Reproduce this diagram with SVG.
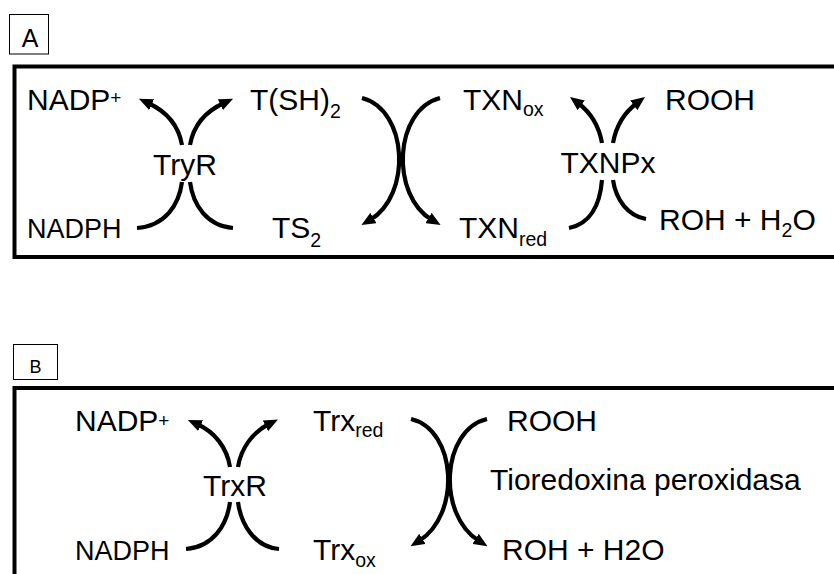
<svg xmlns="http://www.w3.org/2000/svg" width="834" height="574" viewBox="0 0 834 574">
  <style>
    text { font-family: "Liberation Sans", Arial, sans-serif; fill: #000; }
    .big { font-size: 30px; }
    .mid { font-size: 27px; }
    .sub { font-size: 19.5px; }
    .sup { font-size: 19px; }
    .panel { fill: none; stroke: #000; stroke-width: 4; }
    .tag { fill: #fff; stroke: #000; stroke-width: 1; }
    .arc { fill: none; stroke: #000; stroke-width: 4.2; }
    .arc.head { marker-end: url(#arrow); }
  </style>
  <defs>
    <marker id="arrow" viewBox="0 0 14 12" markerWidth="14" markerHeight="12" refX="4" refY="6" orient="auto" markerUnits="userSpaceOnUse">
      <path d="M0,0 L14,6 L0,12 z" fill="#000"/>
    </marker>
  </defs>
  <rect width="834" height="574" fill="#fff"/>

  <!-- Panel A: trypanothione system -->
  <g id="panelA">
    <rect class="tag" x="9.5" y="14.5" width="39" height="39.5"/>
    <text x="30" y="47" font-size="25" text-anchor="middle">A</text>
    <rect class="panel" x="14.5" y="66.5" width="830" height="190.5"/>
  </g>
  <g id="a-nadp"><text class="big" x="27" y="110">NADP<tspan class="sup" y="104">+</tspan></text></g>
  <g id="a-nadph"><text class="mid" x="27" y="238">NADPH</text></g>
  <g id="a-tryr"><text class="big" x="185" y="175" text-anchor="middle">TryR</text></g>
  <g id="a-tsh2"><text class="big" x="250" y="110">T(SH)<tspan class="sub" y="118">2</tspan></text></g>
  <g id="a-ts2"><text class="big" x="272" y="238">TS<tspan class="sub" y="247">2</tspan></text></g>
  <g id="a-txnox"><text class="big" x="463" y="110">TXN<tspan class="sub" y="116">ox</tspan></text></g>
  <g id="a-txnred"><text class="big" x="459" y="238">TXN<tspan class="sub" y="246">red</tspan></text></g>
  <g id="a-txnpx"><text class="big" x="608" y="173" text-anchor="middle">TXNPx</text></g>
  <g id="a-rooh"><text class="big" x="665" y="110">ROOH</text></g>
  <g id="a-roh"><text class="big" x="659" y="230">ROH + H<tspan class="sub" y="237">2</tspan><tspan y="230">O</tspan></text></g>

  <!-- Panel B: thioredoxin system -->
  <g id="panelB">
    <rect class="tag" x="13.5" y="344.5" width="44" height="35"/>
    <text x="35.5" y="372.5" font-size="18" text-anchor="middle">B</text>
    <rect class="panel" x="14.5" y="388" width="830" height="200"/>
  </g>
  <g id="b-nadp"><text class="big" x="75" y="431">NADP<tspan class="sup" y="427">+</tspan></text></g>
  <g id="b-nadph"><text class="mid" x="75" y="560">NADPH</text></g>
  <g id="b-trxr"><text class="big" x="235" y="496" text-anchor="middle">TrxR</text></g>
  <g id="b-trxred"><text class="big" x="313" y="431">Trx<tspan class="sub" y="437">red</tspan></text></g>
  <g id="b-trxox"><text class="big" x="313" y="560">Trx<tspan class="sub" y="567">ox</tspan></text></g>
  <g id="b-rooh"><text class="big" x="507" y="431">ROOH</text></g>
  <g id="b-tpx"><text class="big" x="490" y="490">Tioredoxina peroxidasa</text></g>
  <g id="b-roh"><text class="big" x="502" y="560">ROH + H2O</text></g>

  <!-- Reaction arcs -->
  <g id="connectors">
    <!-- TryR -->
    <path class="arc head" d="M182,145 C179,128 170,113 148,103"/>
    <path class="arc head" d="M190,145 C193,128 202,113 224,103"/>
    <path class="arc" d="M182,182 C179,205 165,226 137,228"/>
    <path class="arc" d="M190,182 C193,205 207,226 233,228"/>
    <!-- T(SH)2 / TXN exchange -->
    <path class="arc head" d="M362,98 C408,110 412,195 370,220"/>
    <path class="arc head" d="M440,98 C394,110 390,195 432,220"/>
    <!-- TXNPx -->
    <path class="arc head" d="M602,143 C599,126 590,112 578,103"/>
    <path class="arc head" d="M613,143 C616,126 625,112 637,103"/>
    <path class="arc" d="M602,180 C600,205 590,224 569,228"/>
    <path class="arc" d="M613,180 C616,200 628,216 646,219"/>
    <!-- TrxR -->
    <path class="arc head" d="M230,467 C227,448 215,432 197,424"/>
    <path class="arc head" d="M238,467 C241,448 253,432 269,424"/>
    <path class="arc" d="M230,502 C227,525 213,547 186,549"/>
    <path class="arc" d="M238,502 C241,525 255,547 279,549"/>
    <!-- Trx / peroxide exchange -->
    <path class="arc head" d="M411,419 C457,430 461,515 419,541"/>
    <path class="arc head" d="M487,419 C441,430 437,515 479,541"/>
  </g>
</svg>
